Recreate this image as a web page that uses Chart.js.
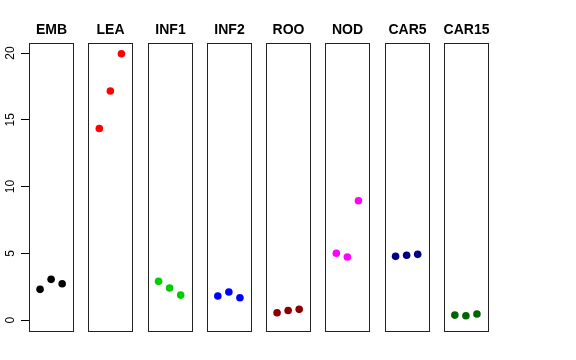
<!DOCTYPE html>
<html lang="en">

<head>
    <meta charset="UTF-8">
    <title>Panels</title>
    <script src="https://cdn.jsdelivr.net/npm/chart.js"></script>
    <style>
        html, body { margin: 0; padding: 0; background: #fff; }
        #wrap { position: relative; width: 576px; height: 360px; }
    </style>
</head>

<body>
    <div id="wrap">
        <canvas id="stripChart" width="576" height="360"></canvas>
    </div>

    <script>
        // panel names and point colours
        const panels = ['EMB', 'LEA', 'INF1', 'INF2', 'ROO', 'NOD', 'CAR5', 'CAR15'];
        const colors = ['#000000', '#ff0000', '#00cd00', '#0000ff', '#8b0000', '#ff00ff', '#000080', '#006400'];

        // three replicate values per panel
        const emb = [2.3, 3.05, 2.72];
        const lea = [14.35, 17.15, 19.95];
        const inf1 = [2.9, 2.4, 1.87];
        const inf2 = [1.8, 2.1, 1.67];
        const roo = [0.55, 0.72, 0.8];
        const nod = [5.0, 4.72, 8.94];
        const car5 = [4.77, 4.85, 4.92];
        const car15 = [0.37, 0.32, 0.45];
        const values = [emb, lea, inf1, inf2, roo, nod, car5, car15];

        const yTicks = [0, 5, 10, 15, 20];

        const panelStep = 5.36;   // spacing between panel starts, x units
        const panelWidth = 4;     // each panel spans 0..4

        const datasets = values.map((vals, k) => ({
            label: panels[k],
            data: vals.map((v, i) => ({ x: k * panelStep + i + 1, y: v })),
            backgroundColor: colors[k],
            borderWidth: 0,
            pointRadius: 3.8
        }));

        const panelPlugin = {
            id: 'panels',
            afterDraw(chart) {
                const c = chart.ctx;
                const xs = chart.scales.x;
                const ys = chart.scales.y;
                const top = chart.chartArea.top;
                const bottom = chart.chartArea.bottom;
                c.save();
                c.strokeStyle = '#222';
                c.lineWidth = 1;
                c.fillStyle = '#000';
                c.font = 'bold 14px "Liberation Sans", Arial, sans-serif';
                c.textAlign = 'center';
                c.textBaseline = 'alphabetic';
                panels.forEach((name, k) => {
                    const x0 = Math.round(xs.getPixelForValue(k * panelStep)) + 0.5;
                    const x1 = Math.round(xs.getPixelForValue(k * panelStep + panelWidth)) + 0.5;
                    c.strokeRect(x0, Math.round(top) + 0.5, x1 - x0, Math.round(bottom - top));
                    c.fillText(name, (x0 + x1) / 2, 34);
                });
                // rotated y tick labels like R
                c.font = '12px "Liberation Sans", Arial, sans-serif';
                yTicks.forEach((t) => {
                    const py = ys.getPixelForValue(t);
                    c.save();
                    c.translate(14, py);
                    c.rotate(-Math.PI / 2);
                    c.fillText(String(t), 0, 0);
                    c.restore();
                });
                c.restore();
            }
        };

        new Chart(document.getElementById('stripChart'), {
            type: 'scatter',
            data: { datasets: datasets },
            options: {
                responsive: false,
                animation: false,
                layout: { padding: { top: 43, bottom: 29, right: 88, left: 0 } },
                plugins: {
                    legend: { display: false },
                    tooltip: { enabled: false }
                },
                scales: {
                    x: {
                        type: 'linear',
                        display: false,
                        min: 0,
                        max: 7 * panelStep + panelWidth
                    },
                    y: {
                        type: 'linear',
                        min: -0.82,
                        max: 20.75,
                        afterBuildTicks: (scale) => {
                            scale.ticks = yTicks.map(v => ({ value: v }));
                        },
                        afterFit: (scale) => { scale.width = 29; },
                        border: { display: false },
                        grid: {
                            drawOnChartArea: false,
                            drawTicks: true,
                            tickLength: 8,
                            color: '#000'
                        },
                        ticks: { display: false }
                    }
                }
            },
            plugins: [panelPlugin]
        });
    </script>
</body>

</html>
